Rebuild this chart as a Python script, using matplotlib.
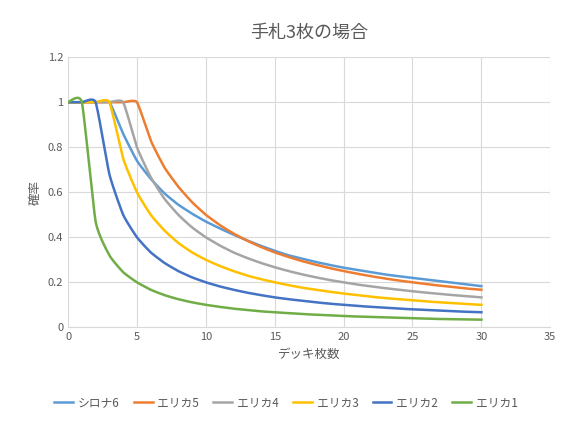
import numpy as np
import matplotlib.pyplot as plt

plt.rcParams['font.family'] = ['Noto Sans CJK JP', 'DejaVu Sans']

x = list(range(0, 31))
shirona6 = [1, 1, 1, 1, 0.86, 0.74, 0.66, 0.595, 0.545, 0.505, 0.47, 0.44, 0.412, 0.386, 0.362, 0.34,
            0.32, 0.305, 0.29, 0.277, 0.265, 0.255, 0.245, 0.235, 0.227, 0.22, 0.212, 0.205, 0.198, 0.19, 0.183]
erika5 = [1, 1, 1, 1, 1, 1, 0.83, 0.71, 0.625, 0.556, 0.5, 0.455, 0.417, 0.385, 0.357, 0.333,
          0.3125, 0.294, 0.278, 0.263, 0.25, 0.238, 0.227, 0.217, 0.208, 0.2, 0.192, 0.185, 0.179, 0.172, 0.167]
erika4 = [1, 1, 1, 1, 1, 0.8, 0.667, 0.571, 0.5, 0.444, 0.4, 0.364, 0.333, 0.308, 0.286, 0.267,
          0.25, 0.235, 0.222, 0.21, 0.2, 0.19, 0.182, 0.174, 0.167, 0.16, 0.154, 0.148, 0.143, 0.138, 0.133]
erika3 = [1, 1, 1, 1, 0.75, 0.6, 0.5, 0.43, 0.375, 0.333, 0.3, 0.273, 0.25, 0.23, 0.214, 0.2,
          0.1875, 0.176, 0.167, 0.158, 0.15, 0.143, 0.136, 0.13, 0.125, 0.12, 0.115, 0.111, 0.107, 0.103, 0.1]
erika2 = [1, 1, 1, 0.68, 0.5, 0.4, 0.333, 0.286, 0.25, 0.222, 0.2, 0.182, 0.167, 0.154, 0.143, 0.133,
          0.125, 0.118, 0.111, 0.105, 0.1, 0.095, 0.091, 0.087, 0.083, 0.08, 0.077, 0.074, 0.071, 0.069, 0.067]
erika1 = [1, 1, 0.47, 0.32, 0.245, 0.2, 0.167, 0.143, 0.125, 0.111, 0.1, 0.091, 0.083, 0.077, 0.071, 0.067,
          0.063, 0.059, 0.056, 0.053, 0.05, 0.048, 0.046, 0.044, 0.042, 0.04, 0.038, 0.037, 0.036, 0.035, 0.034]

series = [("シロナ6", shirona6, "#5B9BD5"), ("エリカ5", erika5, "#ED7D31"),
          ("エリカ4", erika4, "#A5A5A5"), ("エリカ3", erika3, "#FFC000"),
          ("エリカ2", erika2, "#4472C4"), ("エリカ1", erika1, "#70AD47")]


def smooth(xs, ys, n=16, f=0.25):
    # cardinal spline, roughly like Excel's smoothed line
    xs = np.asarray(xs, float); ys = np.asarray(ys, float)
    px = np.concatenate([[xs[0]], xs, [xs[-1]]])
    py = np.concatenate([[ys[0]], ys, [ys[-1]]])
    t = np.linspace(0, 1, n, endpoint=False)
    h00 = 2 * t**3 - 3 * t**2 + 1
    h10 = t**3 - 2 * t**2 + t
    h01 = -2 * t**3 + 3 * t**2
    h11 = t**3 - t**2
    ox, oy = [], []
    for i in range(1, len(px) - 2):
        for p, o in ((px, ox), (py, oy)):
            m1 = f * (p[i + 1] - p[i - 1])
            m2 = f * (p[i + 2] - p[i])
            o.extend(h00 * p[i] + h10 * m1 + h01 * p[i + 1] + h11 * m2)
    ox.append(xs[-1]); oy.append(ys[-1])
    return ox, oy


fig = plt.figure(figsize=(5.72, 4.24), dpi=100)
ax = fig.add_axes([0.119, 0.228, 0.843, 0.637])
for name, ys, c in series:
    sx, sy = smooth(x, ys)
    ax.plot(sx, sy, color=c, lw=1.8, label=name)

ax.set_xlim(0, 35)
ax.set_ylim(0, 1.2)
ax.set_xticks(range(0, 36, 5))
ax.set_yticks([0, 0.2, 0.4, 0.6, 0.8, 1.0, 1.2])
ax.set_yticklabels(["0", "0.2", "0.4", "0.6", "0.8", "1", "1.2"])
ax.grid(color="#D9D9D9", lw=0.8)
for s in ax.spines.values():
    s.set_visible(False)
ax.spines['bottom'].set_visible(True)
ax.spines['bottom'].set_color("#D9D9D9")
ax.tick_params(length=0, colors="#595959", labelsize=8)
ax.set_xlabel("デッキ枚数", color="#595959", fontsize=9)
ax.set_ylabel("確率", color="#595959", fontsize=9)
ax.set_title("手札3枚の場合", color="#595959", fontsize=13, pad=14)
fig.legend(loc="lower center", ncol=6, frameon=False, fontsize=8.5,
           labelcolor="#595959", handlelength=1.6, handletextpad=0.4,
           columnspacing=1.2, bbox_to_anchor=(0.5, 0.01))
fig.savefig("out.png")
